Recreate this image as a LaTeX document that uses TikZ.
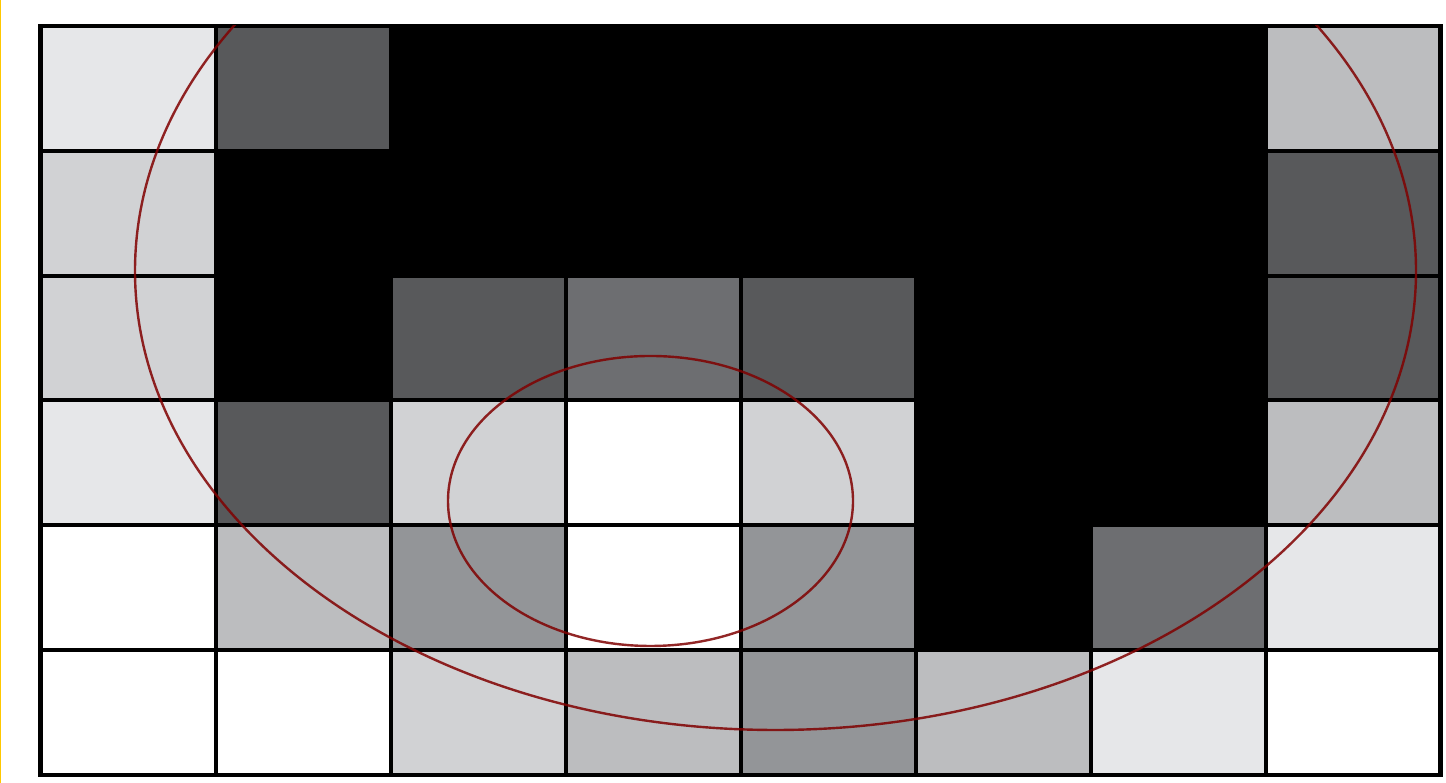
\documentclass[tikz,border=0pt]{standalone}
\usepackage{tikz}
\definecolor{ShadeA}{HTML}{E6E7E9}
\definecolor{ShadeB}{HTML}{D1D2D4}
\definecolor{ShadeC}{HTML}{BCBDBF}
\definecolor{ShadeD}{HTML}{939598}
\definecolor{ShadeE}{HTML}{6D6E71}
\definecolor{ShadeF}{HTML}{58595B}
\definecolor{FigureRed}{HTML}{800000}
\definecolor{FigureYellow}{HTML}{FFC800}
\begin{document}
\begin{tikzpicture}[line cap=rect,line join=miter]
  \useasboundingbox (0,0) rectangle (14.46,7.83);
  \fill[FigureYellow] (0,0) rectangle (0.012,7.83);
  \coordinate (SW) at (0.405,0.08); \coordinate (NE) at (14.405,7.57);
  % pixel values, top row first
  \foreach \row [count=\j from 0] in {{ShadeA,ShadeF,black,black,black,black,black,ShadeC},
      {ShadeB,black,black,black,black,black,black,ShadeF},
      {ShadeB,black,ShadeF,ShadeE,ShadeF,black,black,ShadeF},
      {ShadeA,ShadeF,ShadeB,white,ShadeB,black,black,ShadeC},
      {white,ShadeC,ShadeD,white,ShadeD,black,ShadeE,ShadeA},
      {white,white,ShadeB,ShadeC,ShadeD,ShadeC,ShadeA,white}}{
    \foreach \c [count=\i from 0] in \row {\fill[\c] ({0.405+1.75*\i},{7.57-1.2483*\j}) rectangle ++(1.75,-1.2483);}}
  \foreach \i in {1,...,7}{\draw[line width=0.04cm] ({0.405+1.75*\i},0.08) -- ({0.405+1.75*\i},7.57);}
  \foreach \j in {1,...,5}{\draw[line width=0.04cm] (0.405,{7.57-1.2483*\j}) -- (14.405,{7.57-1.2483*\j});}
  \draw[line width=0.045cm] (SW) rectangle (NE);
  \begin{scope}
    \clip (SW) rectangle (NE);
    \draw[FigureRed,opacity=0.85,line width=0.024cm] (7.755,5.12) ellipse [x radius=6.405,y radius=4.59];
    \draw[FigureRed,opacity=0.85,line width=0.024cm] (6.505,2.82) ellipse [x radius=2.025,y radius=1.45];
  \end{scope}
\end{tikzpicture}
\end{document}
